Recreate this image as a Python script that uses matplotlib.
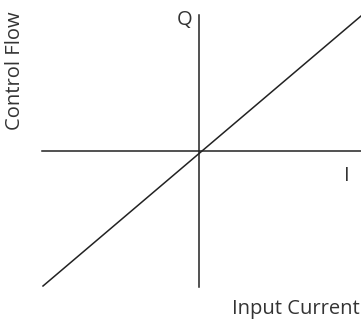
import matplotlib
matplotlib.use("Agg")
import matplotlib.pyplot as plt

# sketch of Q vs I, origin at 0
current = [-156, 162]
flow = [-135, 135]
h_axis = [-157, 162]
v_axis = [-136, 136]

fig = plt.figure(figsize=(3.61, 3.32), dpi=100)
ax = fig.add_axes([0, 0, 1, 1])
ax.set_xlim(-199, 162)
ax.set_ylim(-181, 151)
ax.axis("off")

ink = "#222222"
ax.plot(h_axis, [0, 0], color=ink, linewidth=1.1)
ax.plot([0, 0], v_axis, color=ink, linewidth=1.1)
ax.plot(current, flow, color=ink, linewidth=1.1)

txt = "#333333"
fs = 14.5
ax.text(-14, 131, "Q", fontsize=fs, color=txt, ha="center", va="center", family="Open Sans")
ax.text(148, -25, "I", fontsize=fs, color=txt, ha="center", va="center", family="Open Sans")
ax.text(-184, 80, "Control Flow", fontsize=fs, color=txt, ha="center", va="center",
        rotation=90, family="Open Sans")
ax.text(97, -158, "Input Current", fontsize=fs, color=txt, ha="center", va="center",
        family="Open Sans")

fig.savefig("out.png", dpi=100)
